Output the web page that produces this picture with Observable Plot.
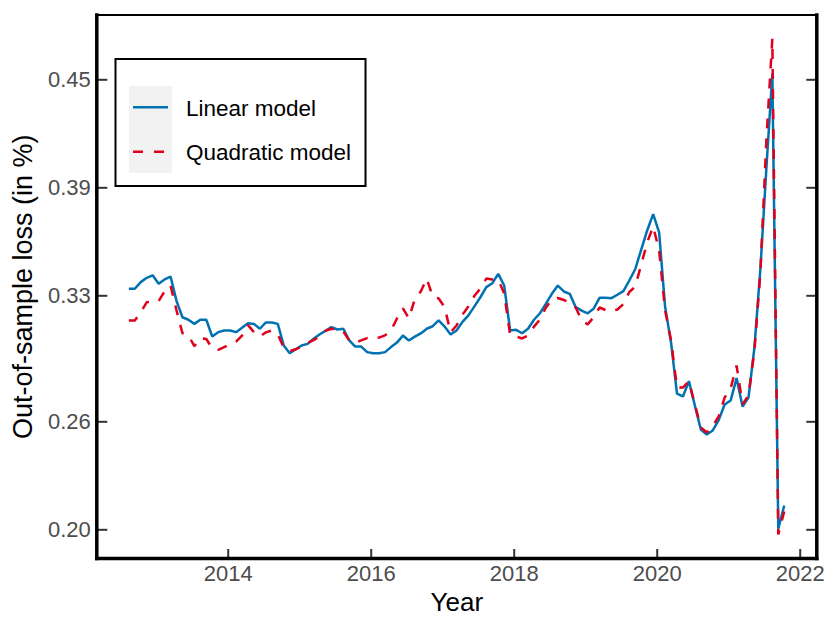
<!DOCTYPE html>
<html>
<head>
<meta charset="utf-8">
<script src="https://cdn.jsdelivr.net/npm/d3@7"></script>
<script src="https://cdn.jsdelivr.net/npm/@observablehq/plot@0.6"></script>
<style>
  html, body { margin: 0; padding: 0; background: white; }
  #wrap { position: relative; width: 830px; height: 632px; font-family: "Liberation Sans", Arial, Helvetica, sans-serif; }
  #legend { position: absolute; left: 0; top: 0; pointer-events: none; }
</style>
</head>
<body>
<div id="wrap"></div>
<script>
// ---- data (monthly, first observation ~ Aug 2012) ----
const startYear = 2012.61;
const seriesNames = ["Linear model", "Quadratic model"];
const seriesColors = ["#0072B2", "#E0001B"];
const linear = [
  0.3339,0.3339,0.3376,0.3400,0.3414,0.3367,0.3391,0.3407,0.3272,0.3181,
  0.3167,0.3144,0.3167,0.3167,0.3074,0.3098,0.3107,0.3107,0.3098,0.3122,
  0.3148,0.3144,0.3117,0.3152,0.3152,0.3144,0.3024,0.2981,0.3003,0.3024,
  0.3033,0.3061,0.3085,0.3105,0.3126,0.3113,0.3117,0.3052,0.3018,0.3018,
  0.2987,0.2981,0.2981,0.2987,0.3015,0.3040,0.3079,0.3052,0.3073,0.3091,
  0.3117,0.3131,0.3163,0.3129,0.3085,0.3107,0.3155,0.3191,0.3241,0.3292,
  0.3348,0.3370,0.3422,0.3357,0.3107,0.3111,0.3092,0.3117,0.3167,0.3203,
  0.3256,0.3311,0.3357,0.3324,0.3311,0.3237,0.3218,0.3203,0.3228,0.3289,
  0.3289,0.3287,0.3306,0.3326,0.3385,0.3449,0.3557,0.3663,0.3754,0.3652,
  0.3240,0.3041,0.2757,0.2741,0.2826,0.2691,0.2557,0.2529,0.2552,0.2610,
  0.2696,0.2718,0.2843,0.2685,0.2735,0.3014,0.3452,0.4007,0.4533,0.2006,
  0.2135
];
const quadratic = [
  0.3163,0.3163,0.3209,0.3264,0.3270,0.3270,0.3324,0.3357,0.3220,0.3092,
  0.3080,0.3020,0.3065,0.3060,0.3008,0.3000,0.3015,0.3030,0.3046,0.3079,
  0.3137,0.3098,0.3074,0.3097,0.3107,0.3085,0.3013,0.2992,0.3003,0.3018,
  0.3038,0.3054,0.3074,0.3106,0.3117,0.3115,0.3102,0.3052,0.3040,0.3052,
  0.3065,0.3065,0.3068,0.3080,0.3107,0.3174,0.3230,0.3174,0.3282,0.3324,
  0.3396,0.3296,0.3285,0.3237,0.3097,0.3135,0.3195,0.3242,0.3300,0.3340,
  0.3396,0.3390,0.3390,0.3313,0.3081,0.3074,0.3063,0.3080,0.3129,0.3168,
  0.3235,0.3280,0.3288,0.3277,0.3263,0.3235,0.3164,0.3141,0.3180,0.3235,
  0.3221,0.3214,0.3224,0.3254,0.3321,0.3352,0.3474,0.3597,0.3685,0.3552,
  0.3220,0.3052,0.2790,0.2790,0.2825,0.2696,0.2569,0.2541,0.2577,0.2630,
  0.2735,0.2785,0.2913,0.2697,0.2746,0.2997,0.3430,0.4164,0.4728,0.1974,
  0.2102
];
const xTicks = [2014, 2016, 2018, 2020, 2022];
const yTicks = [0.20, 0.26, 0.33, 0.39, 0.45];
const xLabel = "Year";
const yLabel = "Out-of-sample loss (in %)";

const rows = linear.map((v, i) => ({t: startYear + i / 12, linear: v, quadratic: quadratic[i]}));

const font = "'Liberation Sans', Arial, Helvetica, sans-serif";

const chart = Plot.plot({
  width: 830,
  height: 632,
  marginLeft: 96.3,
  marginRight: 13.7,
  marginTop: 14.5,
  marginBottom: 74,
  x: {domain: [2012.162, 2022.232]},
  y: {domain: [0.18406, 0.4860]},
  style: {fontFamily: font, background: "white", overflow: "visible"},
  marks: [
    Plot.line(rows, {x: "t", y: "linear", stroke: seriesColors[0], strokeWidth: 2.5, strokeLinejoin: "miter", strokeLinecap: "butt"}),
    Plot.line(rows, {x: "t", y: "quadratic", stroke: seriesColors[1], strokeWidth: 2.5, strokeDasharray: "10,10", strokeLinecap: "butt", strokeLinejoin: "miter"}),
    // inward ticks
    Plot.axisX(xTicks, {anchor: "top", frameAnchor: "bottom", tickSize: 10, fill: "none", stroke: "#333333", strokeWidth: 2, label: null}),
    Plot.axisY(yTicks, {anchor: "right", frameAnchor: "left", tickSize: 10, fill: "none", stroke: "#333333", strokeWidth: 2, label: null}),
    Plot.axisY(yTicks, {anchor: "left", frameAnchor: "right", tickSize: 10, fill: "none", stroke: "#333333", strokeWidth: 2, label: null}),
    // tick labels
    Plot.axisX(xTicks, {anchor: "bottom", tickSize: 0, tickPadding: 7, tickFormat: d => String(d), fontSize: 22, color: "#4d4d4d", label: null}),
    Plot.axisY(yTicks, {anchor: "left", tickSize: 0, tickPadding: 6, tickFormat: d3.format(".2f"), fontSize: 22, color: "#4d4d4d", label: null}),
    // frame
    Plot.frame({stroke: "black", strokeWidth: 2}),
    Plot.frame({anchor: "left", stroke: "black", strokeWidth: 3.5}),
    Plot.frame({anchor: "bottom", stroke: "black", strokeWidth: 3.5}),
    Plot.frame({anchor: "right", stroke: "black", strokeWidth: 3.5}),
    // axis titles
    Plot.text([xLabel], {text: d => d, frameAnchor: "bottom", textAnchor: "middle", lineAnchor: "middle", dy: 44.5, fontSize: 26, fill: "black"}),
    Plot.text([yLabel], {text: d => d, frameAnchor: "left", textAnchor: "middle", lineAnchor: "middle", dx: -73.3, rotate: -90, fontSize: 27, fill: "black"})
  ]
});

const wrap = document.getElementById("wrap");
wrap.appendChild(chart);

// legend
const ns = "http://www.w3.org/2000/svg";
const lg = document.createElementNS(ns, "svg");
lg.setAttribute("id", "legend");
lg.setAttribute("width", 830);
lg.setAttribute("height", 632);
const sel = d3.select(lg);
sel.append("rect").attr("x", 115.5).attr("y", 59).attr("width", 250).attr("height", 127)
  .attr("fill", "white").attr("stroke", "black").attr("stroke-width", 2);
sel.append("rect").attr("x", 129).attr("y", 86).attr("width", 43).attr("height", 87).attr("fill", "#f2f2f2");
const keyY = [107.3, 151.7];
const textY = [116, 160];
seriesNames.forEach((name, i) => {
  sel.append("line").attr("x1", 133).attr("x2", 168).attr("y1", keyY[i]).attr("y2", keyY[i])
    .attr("stroke", seriesColors[i]).attr("stroke-width", 2.5)
    .attr("stroke-dasharray", i === 1 ? "10,11" : null);
  sel.append("text").attr("x", 186).attr("y", textY[i]).attr("font-size", 22.5)
    .attr("font-family", font).attr("fill", "black").text(name);
});
wrap.appendChild(lg);
</script>
</body>
</html>
